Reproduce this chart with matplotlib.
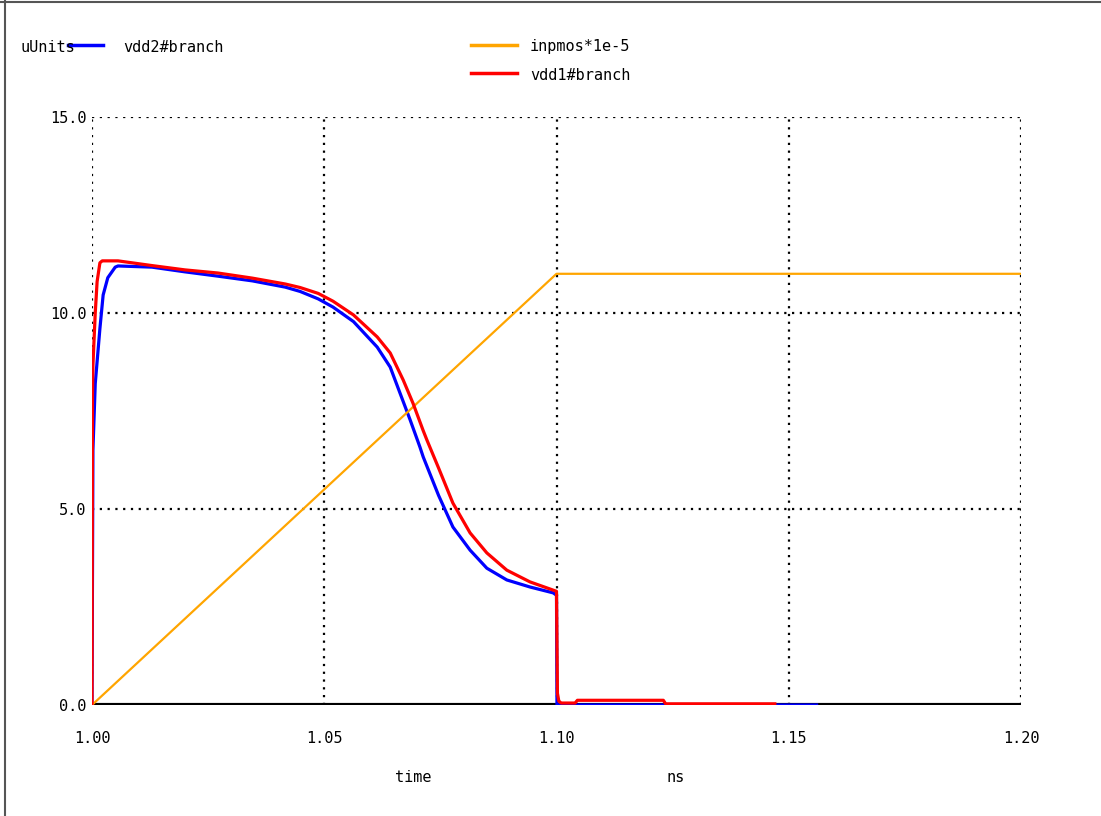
import numpy as np
import matplotlib.pyplot as plt
from matplotlib.lines import Line2D

# time in ns, currents in uUnits
t_vdd2 = [1.0000, 1.0002, 1.0007, 1.0017, 1.0024, 1.0034, 1.0050, 1.0056, 1.0129, 1.0200,
          1.0271, 1.0345, 1.0416, 1.0448, 1.0487, 1.0519, 1.0563, 1.0614, 1.0642,
          1.0663, 1.0685, 1.0706, 1.0713, 1.0746, 1.0777, 1.0814, 1.0850, 1.0893,
          1.0943, 1.0993, 1.1000, 1.1001, 1.156]
v_vdd2 = [0.0, 6.5, 8.2, 9.6, 10.46, 10.9, 11.17, 11.2, 11.17, 11.05,
          10.94, 10.82, 10.66, 10.55, 10.36, 10.15, 9.78, 9.13, 8.62,
          7.96, 7.27, 6.58, 6.33, 5.35, 4.54, 3.95, 3.49, 3.19,
          3.01, 2.86, 2.8, 0.0, 0.0]

t_vdd1 = [1.0000, 1.0001, 1.0002, 1.0007, 1.0011, 1.0017, 1.0022, 1.0056, 1.0129, 1.0200,
          1.0271, 1.0345, 1.0416, 1.0448, 1.0487, 1.0519, 1.0563, 1.0614, 1.0642,
          1.0670, 1.0691, 1.0713, 1.0721, 1.0746, 1.0777, 1.0814, 1.0850, 1.0893,
          1.0943, 1.0993, 1.1000, 1.1002, 1.1005, 1.1010, 1.1040, 1.1045, 1.1230, 1.1235,
          1.147]
v_vdd1 = [0.0, 7.86, 8.67, 10.0, 10.8, 11.28, 11.33, 11.33, 11.21, 11.10,
          11.02, 10.89, 10.74, 10.65, 10.5, 10.3, 9.95, 9.39, 8.98,
          8.29, 7.7, 7.0, 6.76, 6.05, 5.15, 4.39, 3.88, 3.44,
          3.14, 2.93, 2.9, 0.3, 0.1, 0.05, 0.05, 0.12, 0.12, 0.03,
          0.03]

t_inpmos = [1.00, 1.10, 1.20]
v_inpmos = [0.0, 11.0, 11.0]

x_ticks = [1.00, 1.05, 1.10, 1.15, 1.20]
y_ticks = [0.0, 5.0, 10.0, 15.0]

plt.rcParams['font.family'] = ['DejaVu Sans Mono']

fig = plt.figure(figsize=(11.01, 8.16), dpi=100)
ax = fig.add_axes([92 / 1101, 1 - 705 / 816, 929 / 1101, 588 / 816])

ax.set_xlim(1.00, 1.20)
ax.set_ylim(0, 15)

# dotted grid, including the plot edges
for x in x_ticks:
    ax.axvline(x, color='black', linestyle=(0, (1, 2.5)), linewidth=1.6, zorder=1)
for y in y_ticks[1:]:
    ax.axhline(y, color='black', linestyle=(0, (1, 2.5)), linewidth=1.6, zorder=1)
ax.axhline(0, color='black', linewidth=3, zorder=1.5)

ax.plot(t_vdd2, v_vdd2, color='#0000ff', linewidth=2.3, zorder=2)
ax.plot(t_inpmos, v_inpmos, color='#ffa500', linewidth=1.6, zorder=3)
ax.plot(t_vdd1, v_vdd1, color='#ff0000', linewidth=2.3, zorder=4)

for s in ax.spines.values():
    s.set_visible(False)
ax.set_xticks(x_ticks)
ax.set_xticklabels(['%.2f' % x for x in x_ticks])
ax.set_yticks(y_ticks)
ax.set_yticklabels(['%.1f' % y for y in y_ticks])
ax.tick_params(length=0, labelsize=11)
ax.tick_params(axis='x', pad=19)
ax.tick_params(axis='y', pad=4)

fs = 11
fig.text(20 / 1101, 1 - 47 / 816, 'uUnits', fontsize=fs, va='center')
fig.add_artist(Line2D([68 / 1101, 103 / 1101], [1 - 45 / 816] * 2, color='#0000ff', linewidth=2.5))
fig.text(123 / 1101, 1 - 47 / 816, 'vdd2#branch', fontsize=fs, va='center')
fig.add_artist(Line2D([471 / 1101, 517 / 1101], [1 - 45 / 816] * 2, color='#ffa500', linewidth=2.5))
fig.text(530 / 1101, 1 - 47 / 816, 'inpmos*1e-5', fontsize=fs, va='center')
fig.add_artist(Line2D([471 / 1101, 517 / 1101], [1 - 73 / 816] * 2, color='#ff0000', linewidth=2.5))
fig.text(530 / 1101, 1 - 75 / 816, 'vdd1#branch', fontsize=fs, va='center')

fig.text(413 / 1101, 1 - 778 / 816, 'time', fontsize=fs, ha='center', va='center')
fig.text(676 / 1101, 1 - 778 / 816, 'ns', fontsize=fs, ha='center', va='center')

# window frame
fig.add_artist(Line2D([5 / 1101, 5 / 1101], [0, 1], color='#555555', linewidth=1.5))
fig.add_artist(Line2D([0, 1], [1 - 2 / 816] * 2, color='#555555', linewidth=1.5))

fig.savefig('out.png', dpi=100)
